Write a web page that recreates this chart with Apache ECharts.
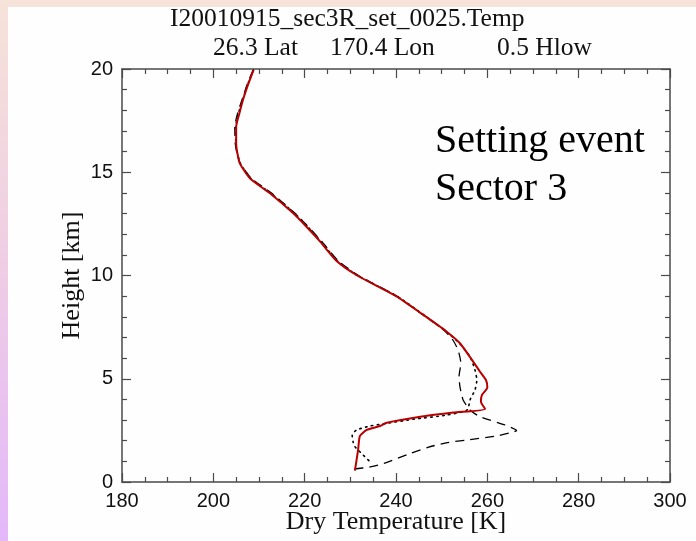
<!DOCTYPE html>
<html><head><meta charset="utf-8">
<script src="https://cdn.jsdelivr.net/npm/echarts@6/dist/echarts.min.js"></script>
<style>
html,body{margin:0;padding:0;width:696px;height:541px;overflow:hidden;}
body{background:linear-gradient(to bottom,#f6e3d9 0%,#efcfe3 45%,#e4b8fa 100%);position:relative;}
#bg{position:absolute;left:8px;top:7px;right:0;bottom:0;background:#fefefe;}
#c{position:absolute;left:0;top:0;width:696px;height:541px;}
</style></head><body><div id="bg"></div><div id="c"></div>
<script>
// Tick labels
const xTicks = [180, 200, 220, 240, 260, 280, 300];
const yTicks = [0, 5, 10, 15, 20];

// Red solid profile: temperature [K], height [km]
const redT = [208.8, 207.7, 206.6, 205.7, 205.0, 205.0, 205.2, 205.8, 208.0, 212.4, 217.5, 220.4, 223.4, 227.0, 231.5, 240.0, 246.0, 251.1, 254.0, 256.9, 258.4, 259.7, 260.0, 258.8, 258.6, 259.5, 252.5, 245.3, 238.0, 236.5, 233.6, 232.1, 231.7, 231.0];
const redH = [19.95, 19.3, 18.58, 17.85, 17.2, 16.4, 16.0, 15.43, 14.71, 13.98, 13.01, 12.36, 11.64, 10.7, 10.0, 9.0, 8.09, 7.28, 6.72, 5.83, 5.34, 4.94, 4.58, 4.21, 3.89, 3.54, 3.36, 3.16, 2.87, 2.71, 2.52, 2.23, 1.55, 0.55];

// Dotted profile
const dotT = [208.8, 207.6, 206.5, 205.5, 204.9, 204.9, 205.2, 205.9, 208.2, 212.6, 217.8, 220.7, 223.6, 227.2, 231.6, 240.2, 246.1, 251.0, 253.9, 256.2, 257.3, 257.7, 257.3, 256.2, 255.6, 251.1, 243.8, 238.0, 234.3, 231.4, 230.4, 230.6, 231.0, 232.8, 234.3];
const dotH = [19.95, 19.3, 18.58, 17.85, 17.2, 16.4, 16.0, 15.43, 14.71, 13.98, 13.01, 12.36, 11.64, 10.7, 10.0, 9.0, 8.09, 7.28, 6.72, 6.07, 5.42, 4.94, 4.46, 3.97, 3.49, 3.24, 3.04, 2.84, 2.71, 2.52, 2.28, 1.95, 1.71, 1.31, 0.98];

// Dashed profile
const dashT = [208.7, 207.5, 206.4, 205.3, 204.7, 204.8, 205.1, 205.9, 208.3, 212.8, 217.9, 220.8, 223.8, 227.4, 231.8, 240.2, 245.8, 249.6, 252.2, 253.6, 254.2, 253.8, 254.0, 254.7, 256.2, 258.4, 263.9, 266.4, 262.0, 255.0, 251.0, 247.0, 242.5, 238.0, 234.6, 230.5];
const dashH = [19.95, 19.3, 18.58, 17.85, 17.2, 16.4, 16.0, 15.43, 14.71, 13.98, 13.01, 12.36, 11.64, 10.7, 10.0, 9.0, 8.1, 7.52, 6.96, 6.39, 5.75, 5.1, 4.62, 3.97, 3.49, 3.16, 2.76, 2.5, 2.23, 2.02, 1.9, 1.68, 1.33, 0.95, 0.74, 0.62];

const pairs = (T, H) => T.map((t, i) => [t, H[i]]);

const axisColor = '#4a4a4a';
const tickFont = {fontFamily: 'Liberation Sans', fontSize: 20, color: '#111'};
const serif = 'Liberation Serif';

function mirrorX(pos, show) {
  return {
    type: 'value', min: 180, max: 300, interval: 20, position: pos, gridIndex: 0,
    axisLine: {show: true, onZero: false, lineStyle: {color: axisColor, width: 1.5}},
    axisTick: {show: true, inside: true, length: 9, lineStyle: {color: axisColor, width: 1.2}},
    minorTick: {show: true, splitNumber: 4, length: 5, lineStyle: {color: axisColor, width: 1.2}},
    splitLine: {show: false}, minorSplitLine: {show: false},
    axisLabel: show ? Object.assign({margin: 9, formatter: v => xTicks.includes(v) ? String(v) : ''}, tickFont) : {show: false},
    name: show ? 'Dry Temperature [K]' : '', nameLocation: 'middle', nameGap: 27, nameMoveOverlap: false,
    nameTextStyle: {fontFamily: serif, fontSize: 26, color: '#111'}
  };
}
function mirrorY(pos, show) {
  return {
    type: 'value', min: 0, max: 20, interval: 5, position: pos, gridIndex: 0,
    axisLine: {show: true, onZero: false, lineStyle: {color: axisColor, width: 1.5}},
    axisTick: {show: true, inside: true, length: 9, lineStyle: {color: axisColor, width: 1.2}},
    minorTick: {show: true, splitNumber: 5, length: 5, lineStyle: {color: axisColor, width: 1.2}},
    splitLine: {show: false}, minorSplitLine: {show: false},
    axisLabel: show ? Object.assign({margin: 9, formatter: v => yTicks.includes(v) ? String(v) : ''}, tickFont) : {show: false},
    name: show ? 'Height [km]' : '', nameLocation: 'middle', nameGap: 37, nameRotate: 90, nameMoveOverlap: false,
    nameTextStyle: {fontFamily: serif, fontSize: 26, color: '#111'}
  };
}

const chart = echarts.init(document.getElementById('c'), null, {renderer: 'canvas'});
chart.setOption({
  animation: false,
  backgroundColor: 'transparent',
  grid: {left: 122, top: 69, right: 26, bottom: 59, containLabel: false, outerBoundsMode: 'none'},
  xAxis: [mirrorX('bottom', true), mirrorX('top', false)],
  yAxis: [mirrorY('left', true), mirrorY('right', false)],
  graphic: [
    {type: 'text', left: 170, top: 6, style: {text: 'I20010915_sec3R_set_0025.Temp', font: '25.5px "Liberation Serif"', fill: '#111'}},
    {type: 'text', left: 213, top: 35, style: {text: '26.3 Lat', font: '25.5px "Liberation Serif"', fill: '#111'}},
    {type: 'text', left: 330, top: 35, style: {text: '170.4 Lon', font: '25.5px "Liberation Serif"', fill: '#111'}},
    {type: 'text', left: 497, top: 35, style: {text: '0.5 Hlow', font: '25.5px "Liberation Serif"', fill: '#111'}},
    {type: 'text', left: 435, top: 121, style: {text: 'Setting event', font: '40px "Liberation Serif"', fill: '#000'}},
    {type: 'text', left: 435, top: 169, style: {text: 'Sector 3', font: '40px "Liberation Serif"', fill: '#000'}}
  ],
  series: [
    {type: 'line', xAxisIndex: 0, yAxisIndex: 0, data: pairs(dashT, dashH), showSymbol: false, smooth: 0.2,
     lineStyle: {color: '#000', width: 1.3, type: [9, 6]}, z: 2},
    {type: 'line', xAxisIndex: 0, yAxisIndex: 0, data: pairs(dotT, dotH), showSymbol: false, smooth: 0.2,
     lineStyle: {color: '#000', width: 1.6, type: [1.5, 4.5], cap: 'round'}, z: 3},
    {type: 'line', xAxisIndex: 0, yAxisIndex: 0, data: pairs(redT, redH), showSymbol: false, smooth: 0.2,
     lineStyle: {color: '#b80000', width: 2}, z: 4}
  ]
});
</script></body></html>
